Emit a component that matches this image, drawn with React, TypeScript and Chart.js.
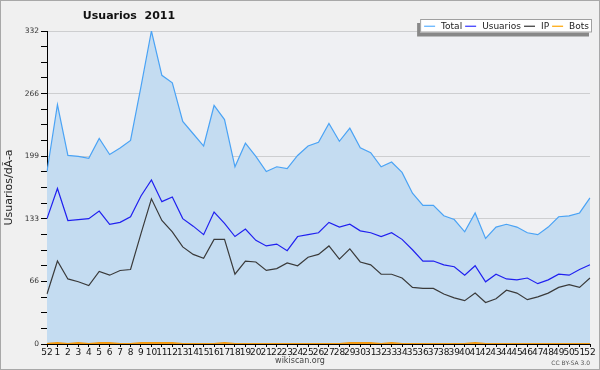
import React, { useEffect, useRef } from "react";
import { Chart, registerables } from "chart.js";

Chart.register(...registerables);

const weekLabels = ["52", "1", "2", "3", "4", "5", "6", "7", "8", "9", "10", "11", "12", "13", "14", "15", "16", "17", "18", "19", "20", "21", "22", "23", "24", "25", "26", "27", "28", "29", "30", "31", "32", "33", "34", "35", "36", "37", "38", "39", "40", "41", "42", "43", "44", "45", "46", "47", "48", "49", "50", "51", "52"];

const totalValues = [183, 254, 200, 199, 197, 218, 201, 208, 216, 273, 332, 285, 277, 236, 223, 210, 253, 238, 188, 213, 199, 183, 188, 186, 200, 210, 214, 234, 215, 229, 208, 203, 188, 193, 182, 160, 147, 147, 136, 132, 119, 139, 112, 124, 127, 124, 118, 116, 124, 135, 136, 139, 155];

const usuariosValues = [133, 165, 131, 132, 133, 141, 127, 129, 135, 157, 174, 151, 156, 133, 125, 116, 140, 128, 114, 122, 110, 104, 106, 99, 114, 116, 118, 129, 124, 127, 120, 118, 114, 118, 111, 100, 88, 88, 84, 82, 73, 83, 66, 74, 69, 68, 70, 64, 68, 74, 73, 79, 84];

const ipValues = [53, 88, 69, 66, 62, 77, 73, 78, 79, 117, 154, 131, 119, 103, 95, 91, 111, 111, 74, 88, 87, 78, 80, 86, 83, 92, 95, 104, 90, 101, 87, 84, 74, 74, 70, 60, 59, 59, 53, 49, 46, 54, 44, 48, 57, 54, 47, 50, 54, 60, 63, 60, 70];

const botsValues = [0, 1, 0, 1, 0, 1, 1, 0, 0, 1, 1, 1, 1, 0, 0, 0, 0, 1, 0, 0, 0, 0, 0, 0, 0, 0, 0, 0, 0, 1, 1, 1, 0, 1, 0, 0, 0, 0, 0, 0, 0, 1, 0, 0, 0, 0, 0, 0, 0, 0, 0, 0, 0];

const yTickLabels = ["0", "66", "133", "199", "266", "332"];
const yMax = 332;
const minorPerMajor = 4;

const chartTitle = "Usuarios  2011";
const yAxisTitle = "Usuarios/dÃ-a";
const footerSite = "wikiscan.org";
const footerLicense = "CC BY-SA 3.0";

const FONT = "'DejaVu Sans', sans-serif";

const decorPlugin = {
  id: "decor",
  beforeDraw(chart: any) {
    const { ctx, chartArea } = chart;
    ctx.save();
    ctx.fillStyle = "#f0f0f0";
    ctx.fillRect(0, 0, 600, 370);
    ctx.strokeStyle = "#a8a8a8";
    ctx.lineWidth = 1;
    ctx.strokeRect(0.5, 0.5, 599, 369);
    ctx.fillStyle = "#eff0f3";
    ctx.fillRect(chartArea.left, chartArea.top, chartArea.right - chartArea.left, chartArea.bottom - chartArea.top);
    ctx.restore();
  },
  afterDraw(chart: any) {
    const { ctx } = chart;
    ctx.save();
    // title
    ctx.fillStyle = "#111";
    ctx.font = `bold 11px ${FONT}`;
    ctx.textAlign = "center";
    ctx.textBaseline = "middle";
    ctx.fillText(chartTitle, 129, 16.5);

    // legend
    ctx.font = `9px ${FONT}`;
    const items = chart.data.datasets.map((d: any) => ({ label: d.label, color: d.legendColor }));
    let widthSum = 4;
    items.forEach((it: any) => {
      widthSum += 11 + 6 + ctx.measureText(it.label).width + 3;
    });
    const boxRight = 592;
    const boxLeft = boxRight - widthSum;
    const boxTop = 19;
    const boxH = 13.5;
    ctx.fillStyle = "#888";
    ctx.fillRect(boxLeft - 3, boxTop + 4, widthSum, boxH);
    ctx.fillStyle = "#fff";
    ctx.fillRect(boxLeft, boxTop, widthSum, boxH);
    ctx.strokeStyle = "#a0a0a0";
    ctx.lineWidth = 1;
    ctx.strokeRect(boxLeft + 0.5, boxTop + 0.5, widthSum - 1, boxH - 1);
    let x = boxLeft + 4;
    const cy = boxTop + boxH / 2 + 0.5;
    items.forEach((it: any) => {
      ctx.strokeStyle = it.color;
      ctx.lineWidth = 1.2;
      ctx.beginPath();
      ctx.moveTo(x, cy);
      ctx.lineTo(x + 11, cy);
      ctx.stroke();
      ctx.fillStyle = "#222";
      ctx.textAlign = "left";
      ctx.textBaseline = "middle";
      ctx.fillText(it.label, x + 17, cy);
      x += 11 + 6 + ctx.measureText(it.label).width + 3;
    });

    // footer
    ctx.fillStyle = "#444";
    ctx.font = `8px ${FONT}`;
    ctx.textAlign = "center";
    ctx.fillText(footerSite, 300, 361);
    ctx.fillStyle = "#555";
    ctx.font = `6px ${FONT}`;
    ctx.textAlign = "right";
    ctx.fillText(footerLicense, 590, 363);
    ctx.restore();
  },
};

export default function App() {
  const canvasRef = useRef<HTMLCanvasElement | null>(null);

  useEffect(() => {
    if (!canvasRef.current) return;
    const chart = new Chart(canvasRef.current, {
      type: "line",
      data: {
        labels: weekLabels,
        datasets: [
          {
            label: "Total",
            data: totalValues,
            borderColor: "#4aa3f5",
            backgroundColor: "#c4dcf1",
            fill: "origin",
            borderWidth: 1.2,
            pointRadius: 0,
            tension: 0,
            order: 10,
            legendColor: "#5ab0ff",
          } as any,
          {
            label: "Usuarios",
            data: usuariosValues,
            borderColor: "#2020f0",
            borderWidth: 1.2,
            pointRadius: 0,
            fill: false,
            tension: 0,
            order: 3,
            legendColor: "#3333ff",
          } as any,
          {
            label: "IP",
            data: ipValues,
            borderColor: "#3a3a3a",
            borderWidth: 1.2,
            pointRadius: 0,
            fill: false,
            tension: 0,
            order: 2,
            legendColor: "#333333",
          } as any,
          {
            label: "Bots",
            data: botsValues,
            borderColor: "#f59a10",
            borderWidth: 2,
            pointRadius: 0,
            fill: false,
            tension: 0.4,
            order: 1,
            legendColor: "#ffa500",
          } as any,
        ],
      },
      options: {
        animation: false,
        responsive: false,
        maintainAspectRatio: false,
        layout: { padding: { top: 31, right: 10, left: 0, bottom: 0 } },
        plugins: {
          legend: { display: false },
          title: { display: false },
          tooltip: { enabled: false },
        },
        scales: {
          x: {
            type: "category",
            z: 1,
            offset: false,
            grid: {
              drawOnChartArea: false,
              drawTicks: true,
              tickLength: 3,
              tickColor: "#000",
            },
            border: { display: true, color: "#000", width: 1 },
            ticks: {
              autoSkip: false,
              maxRotation: 0,
              minRotation: 0,
              padding: 0,
              color: "#111",
              font: { family: FONT, size: 9 },
            },
            afterFit(scale: any) {
              scale.height = 26;
            },
          },
          y: {
            type: "linear",
            z: 1,
            min: 0,
            max: yMax,
            afterBuildTicks(scale: any) {
              const n = (yTickLabels.length - 1) * minorPerMajor;
              const ticks = [];
              for (let i = 0; i <= n; i++) ticks.push({ value: (yMax * i) / n });
              scale.ticks = ticks;
            },
            grid: {
              color: (ctx: any) => (ctx.index % minorPerMajor === 0 && ctx.index !== 0 ? "rgba(0,0,0,0.14)" : "rgba(0,0,0,0)"),
              tickColor: "#000",
              tickLength: 6,
              drawTicks: true,
            },
            border: { display: true, color: "#000", width: 1 },
            ticks: {
              padding: 2,
              color: "#333",
              font: { family: FONT, size: 7.5 },
              callback: (_v: any, i: number) => (i % minorPerMajor === 0 ? yTickLabels[i / minorPerMajor] : ""),
            },
            title: {
              display: true,
              text: yAxisTitle,
              color: "#222",
              font: { family: FONT, size: 11 },
              padding: { top: 3, bottom: 0 },
            },
            afterFit(scale: any) {
              scale.width = 47;
            },
          },
        },
      },
      plugins: [decorPlugin],
    });
    return () => chart.destroy();
  }, []);

  return (
    <div style={{ position: "absolute", left: 0, top: 0, width: 600, height: 370 }}>
      <canvas ref={canvasRef} width={600} height={370} style={{ display: "block", width: 600, height: 370 }} />
    </div>
  );
}
